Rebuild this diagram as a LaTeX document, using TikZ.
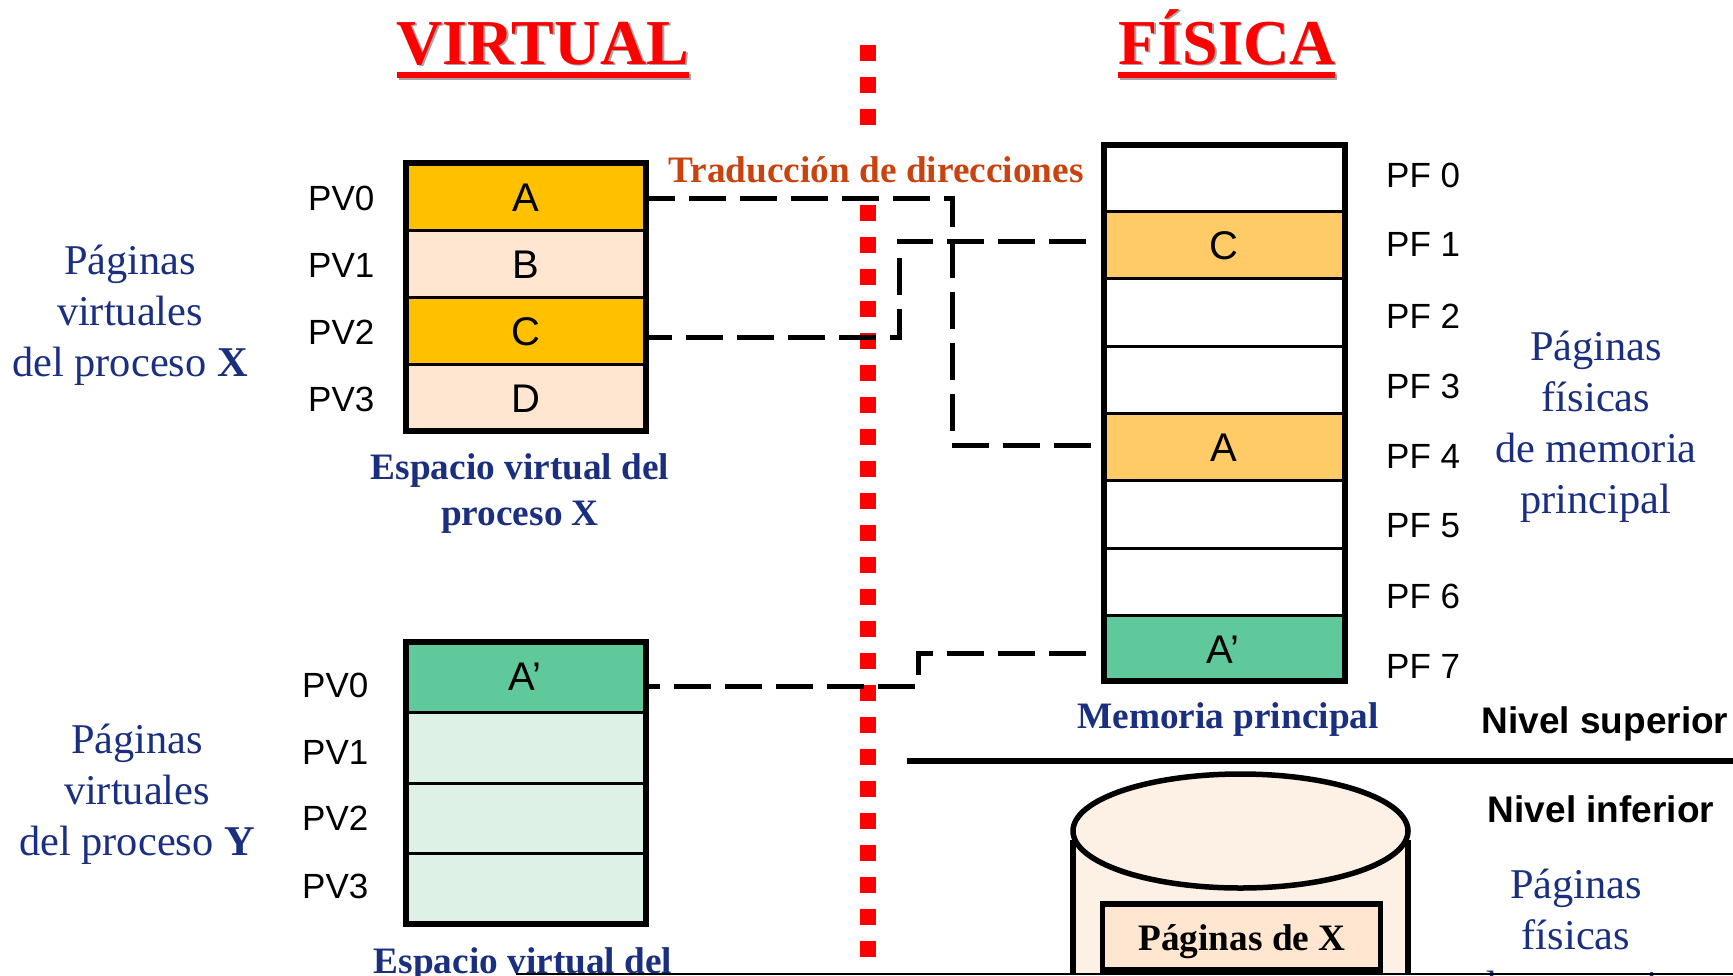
\documentclass[tikz,border=0pt]{standalone}
\usepackage{fontspec}
\setmainfont{Liberation Serif}
\setsansfont{Liberation Sans}
\usetikzlibrary{positioning}
\definecolor{azul}{HTML}{1A2F80}
\definecolor{naranja}{HTML}{C8430F}
\definecolor{ambar}{HTML}{FFC000}
\definecolor{ambarclaro}{HTML}{FFCB66}
\definecolor{crema}{HTML}{FFE6D0}
\definecolor{cremaclaro}{HTML}{FDF1E6}
\definecolor{verde}{HTML}{5FC99C}
\definecolor{verdeclaro}{HTML}{DDF1E7}
\newcommand{\sombra}[2][gray!70]{\leavevmode\rlap{\kern1.5pt\raisebox{-1.5pt}{\textcolor{#1}{#2}}}#2}
\tikzset{
  pagina/.style={draw,line width=3pt,minimum width=240pt,inner sep=0pt},
  letra/.style={inner sep=0pt,font=\sffamily\fontsize{40}{40}\selectfont},
  marco/.style={draw,line width=6pt},
  etiq/.style={inner sep=0pt,anchor=base west,font=\sffamily\fontsize{35}{35}\selectfont},
  nivel/.style={inner sep=0pt,anchor=base,font=\sffamily\bfseries\fontsize{37}{37}\selectfont},
  titulo/.style={inner sep=0pt,anchor=base,text=red,font=\bfseries\fontsize{64}{64}\selectfont},
  subraya/.style={red,line width=6pt},
  rotulo/.style={inner sep=0pt,anchor=base,align=center,text=azul,font=\fontsize{42.4}{51}\selectfont},
  pie/.style={inner sep=0pt,anchor=base,align=center,text=azul,font=\bfseries\fontsize{37.3}{46}\selectfont},
  traduce/.style={black,line width=5pt,dash pattern=on 37pt off 14pt}
}
\begin{document}
\begin{tikzpicture}[x=1pt,y=-1pt]
  \useasboundingbox (0,0) rectangle (1733,975);
  \begin{scope}
  \clip (0,0) rectangle (1733,975);
  % titulos
  \node[titulo] (virtual) at (543,64) {\sombra{VIRTUAL}};
  \node[titulo] (fisica) at (1227,64) {\sombra{FÍSICA}};
  \draw[subraya,gray!70] (399,77) -- (691,77);
  \draw[subraya,gray!70] (1120,77) -- (1337,77);
  \draw[subraya] (397,75) -- (689,75);
  \draw[subraya] (1118,75) -- (1335,75);
  % frontera
  \draw[red,line width=16pt,dash pattern=on 16pt off 16pt] (868,45) -- (868,975);
  \node[inner xsep=2pt,inner ysep=0pt,anchor=base,fill=white,text height=44pt,text depth=10pt,text=naranja,font=\bfseries\fontsize{37.3}{37.3}\selectfont] (trad) at (876,182) {Traducción de direcciones};
  % espacio virtual X
  \foreach \i/\a/\b/\col in {0/163/230/ambar,1/230/297/crema,2/297/364/ambar,3/364/431/crema}{
    \node[pagina,fill=\col,minimum height=67pt] (x\i) at (525.5,{(\a+\b)/2}) {};
    \node[etiq] (lx\i) at (308,{(\a+\b)/2+13.5}) {PV\i};
  }
  \node[letra] (xA) at ([yshift=-1.5pt]x0) {A};
  \node[letra] (xB) at ([yshift=-1.5pt]x1) {B};
  \node[letra] (xC) at ([yshift=-1.5pt]x2) {C};
  \node[letra] (xD) at ([yshift=-1.5pt]x3) {D};
  \draw[marco] (405.5,163) rectangle (645.5,431);
  % espacio virtual Y
  \foreach \i/\a/\b/\col in {0/642/712/verde,1/712/783/verdeclaro,2/783/853/verdeclaro,3/853/924/verdeclaro}{
    \node[pagina,fill=\col,minimum height={\b-\a}] (y\i) at (525.5,{(\a+\b)/2}) {};
  }
  \node[letra] (yA) at (525,677) {A’};
  \foreach \i/\c in {0/684,1/751,2/817,3/885}{
    \node[etiq] (ly\i) at (302,\c+13) {PV\i};
  }
  \draw[marco] (405.5,642) rectangle (645.5,924);
  % memoria principal
  \foreach \i/\a/\b/\col in {0/145/211/white,1/211/278/ambarclaro,2/278/346/white,3/346/413/white,4/413/480/ambarclaro,5/480/548/white,6/548/615/white,7/615/681/verde}{
    \node[pagina,fill=\col,minimum height={\b-\a}] (f\i) at (1224,{(\a+\b)/2}) {};
  }
  \node[letra] (fC) at ([yshift=-1.5pt]f1) {C};
  \node[letra] (fA) at ([yshift=-1.5pt]f4) {A};
  \node[letra] (fB) at (1223,650) {A’};
  \foreach \i/\c in {0/175,1/244,2/316,3/386,4/456,5/525,6/596,7/666}{
    \node[etiq] (lf\i) at (1386,\c+12.5) {PF \i};
  }
  \draw[marco] (1104,145) rectangle (1345,681);
  % traducciones
  \coordinate (c0) at (648,198);
  \coordinate (c1) at (1095,445);
  \coordinate (c2) at (648,337);
  \coordinate (c3) at (1088,241);
  \coordinate (c4) at (648,686);
  \coordinate (c5) at (1089,653);
  \draw[traduce,dash phase=10pt] (c0) -- (952,198) -- (952,445) -- (c1);
  \draw[traduce,dash phase=13pt] (c2) -- (899,337) -- (899,241) -- (c3);
  \draw[traduce,dash phase=25pt] (c4) -- (918,686) -- (918,653) -- (c5);
  % rotulos
  \node[rotulo] (rx) at (130,376) {Páginas\\virtuales\\del proceso \textbf{X}};
  \node[rotulo] (ry) at (137,855) {Páginas\\virtuales\\del proceso \textbf{Y}};
  \node[rotulo] (rf) at (1596,513) {Páginas\\físicas\\de memoria\\principal};
  \node[rotulo] (rd) at (1576,1000) {Páginas\\físicas\\de memoria};
  \node[pie] (px) at (520,525.5) {Espacio virtual del\\proceso X};
  \node[pie] (py) at (523,973) {Espacio virtual del};
  \node[pie] (pm) at (1228,728) {Memoria principal};
  \node[nivel] (ns) at (1605,733) {Nivel superior};
  \node[nivel] (ni) at (1601,822) {Nivel inferior};
  \draw[black,line width=5.5pt] (907,761) -- (1733,761);
  % disco
  \fill[cremaclaro] (1073,831) -- (1073,975) -- (1407,975) -- (1407,831) -- cycle;
  \draw[line width=5.5pt] (1073,840) -- (1073,975) (1408,840) -- (1408,975);
  \draw[line width=5.5pt,fill=cremaclaro] (1240.5,831) ellipse [x radius=167.5,y radius=57];
  \node[draw,line width=5.5pt,fill=crema,minimum width=278pt,minimum height=66pt,inner sep=0pt] (pagx) at (1241.5,937) {};
  \node[inner sep=0pt,anchor=base,font=\bfseries\fontsize{37.3}{37.3}\selectfont] (pagt) at (1242,950) {Páginas de X};
  \draw[line width=2pt] (516,974) -- (1733,974);
  \end{scope}
\end{tikzpicture}
\end{document}
